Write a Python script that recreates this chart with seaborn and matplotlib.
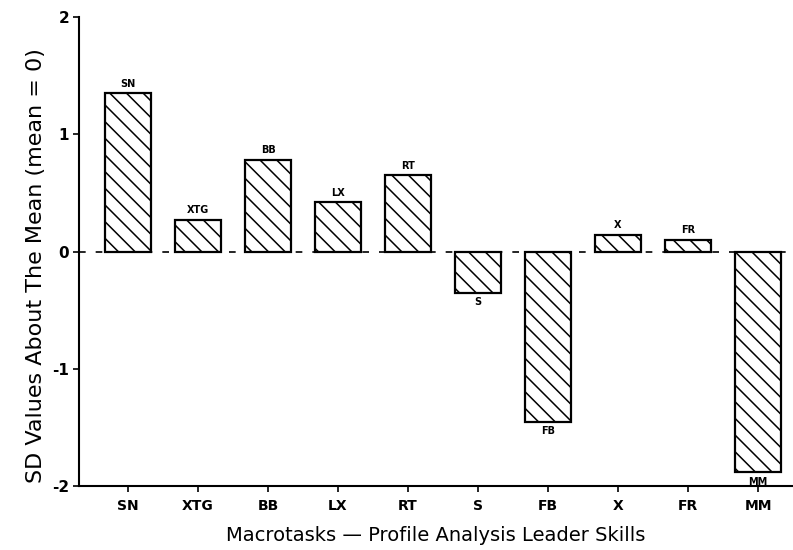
import matplotlib
matplotlib.use("Agg")
import matplotlib.pyplot as plt
import seaborn as sns
import pandas as pd

categories = ["SN", "XTG", "BB", "LX", "RT", "S", "FB", "X", "FR", "MM"]
values = [1.35, 0.27, 0.78, 0.42, 0.65, -0.35, -1.45, 0.14, 0.10, -1.88]
yticks = [-2, -1, 0, 1, 2]

sns.set_theme(style="white")
plt.rcParams['font.family'] = ['DejaVu Sans']
plt.rcParams['text.color'] = 'black'
plt.rcParams['axes.labelcolor'] = 'black'
plt.rcParams['xtick.color'] = 'black'
plt.rcParams['ytick.color'] = 'black'
plt.rcParams['hatch.linewidth'] = 1.1

df = pd.DataFrame({"task": categories, "sd": values})

fig = plt.figure(figsize=(7.93, 5.5), dpi=100)
ax = fig.add_axes([79/793, 1 - 486/550, 1 - 79/793, (486 - 17)/550])

sns.barplot(data=df, x="task", y="sd", order=categories, color="white",
            edgecolor="black", linewidth=1.6, width=0.65, ax=ax, saturation=1)
for p in ax.patches:
    p.set_hatch("\\\\")
    p.set_facecolor("white")
    p.set_edgecolor("black")

ax.axhline(0, color="black", linestyle=(0, (4, 6)), linewidth=1.2, zorder=0)

for i, (c, v) in enumerate(zip(categories, values)):
    if v >= 0:
        ax.text(i, v + 0.04, c, ha="center", va="bottom", fontsize=7, fontweight="bold", color="black")
    else:
        ax.text(i, v - 0.04, c, ha="center", va="top", fontsize=7, fontweight="bold", color="black")

ax.set_ylim(-2, 2)
ax.set_xlim(-0.7, 9.5)
ax.set_yticks(yticks)
ax.set_yticklabels([str(t) for t in yticks], fontsize=11, fontweight="bold")
ax.set_xticks(range(len(categories)))
ax.set_xticklabels(categories, fontsize=10, fontweight="bold")
ax.tick_params(axis="x", direction="out", length=4, width=1.2, color="black", pad=5, bottom=True)
ax.tick_params(axis="y", direction="out", length=4, width=1.2, color="black", pad=3, left=True)
for s in ["top", "right"]:
    ax.spines[s].set_visible(False)
for s in ["left", "bottom"]:
    ax.spines[s].set_color("black")
    ax.spines[s].set_linewidth(1.5)

ax.set_ylabel("SD Values About The Mean (mean = 0)", fontsize=16)
ax.yaxis.set_label_coords(-0.046, 0.469)
ax.set_xlabel("Macrotasks \u2014 Profile Analysis Leader Skills", fontsize=14, labelpad=10)

fig.savefig("out.png", dpi=100)
